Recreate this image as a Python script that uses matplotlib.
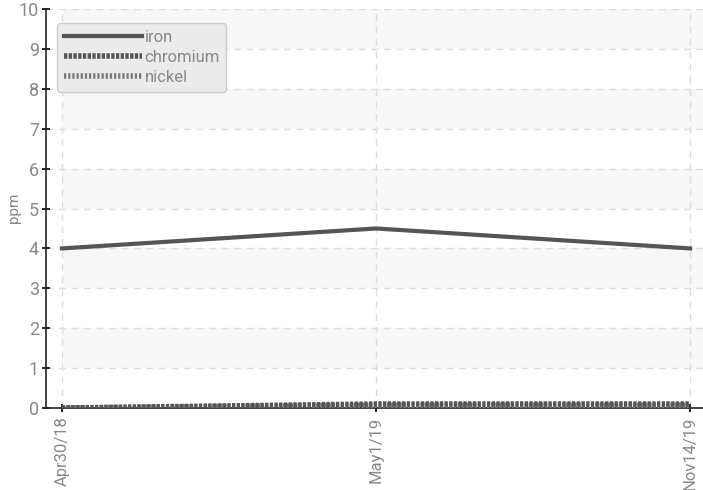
import matplotlib
matplotlib.use('Agg')
import matplotlib.pyplot as plt
import numpy as np

dates = ['Apr30/18', 'May1/19', 'Nov14/19']
iron = [4.0, 4.5, 4.0]
chromium = [0.0, 0.1, 0.1]
nickel = [0.0, 0.07, 0.07]

TXT = '#888888'


def main():
    plt.rcParams['font.family'] = ['Roboto', 'DejaVu Sans']
    fig = plt.figure(figsize=(7.03, 4.90), dpi=100)
    ax = fig.add_axes([0.0654, 0.1673, 0.9346, 0.8143])

    x = np.arange(len(dates))
    ax.set_xlim(-0.051, 2.041)
    ax.set_ylim(0, 10)

    # alternating bands
    x0 = 0.051 / 2.092
    for lo in range(1, 10, 2):
        ax.axhspan(lo, lo + 1, xmin=x0, xmax=1, color='#f7f7f7', lw=0, zorder=0)

    ax.grid(True, color='#dddddd', linestyle=(0, (5, 4)), lw=1, zorder=1)

    ax.plot(x, nickel, color='#777777', lw=4, linestyle=(0, (0.4, 0.35)),
            label='nickel', zorder=3, dash_capstyle='butt')
    ax.plot(x, chromium, color='#555555', lw=4, linestyle=(0, (0.6, 0.25)),
            label='chromium', zorder=4, dash_capstyle='butt')
    ax.plot(x, iron, color='#555555', lw=3, label='iron', zorder=5)

    ax.set_xticks(x)
    ax.set_xticklabels(dates, rotation=90, color=TXT, fontsize=12)
    ax.set_yticks(range(0, 11))
    ax.tick_params(axis='y', labelcolor=TXT, labelsize=13, direction='inout',
                   length=6, width=1.2, pad=2)
    ax.tick_params(axis='x', direction='inout', length=6, width=1.2, pad=3)
    fig.text(14 / 703, 1 - 208 / 490, 'ppm', rotation=90, color=TXT,
             fontsize=11, ha='center', va='center')

    for s in ['top', 'right']:
        ax.spines[s].set_visible(False)
    ax.spines['left'].set_color('#222222')
    ax.spines['bottom'].set_color('#222222')
    ax.spines['left'].set_linewidth(1.2)
    ax.spines['bottom'].set_linewidth(1.2)

    handles, labels = ax.get_legend_handles_labels()
    order = [2, 1, 0]
    leg = ax.legend([handles[i] for i in order], [labels[i] for i in order],
                    loc='upper left', bbox_to_anchor=(0.004, 0.985),
                    handlelength=4.7, handletextpad=0.15, labelspacing=0.3,
                    fontsize=12, fancybox=True, framealpha=1,
                    facecolor='#ebebeb', edgecolor='#cccccc', borderpad=0.4)
    for t in leg.get_texts():
        t.set_color(TXT)

    fig.savefig('out.png', dpi=100)


if __name__ == '__main__':
    main()
